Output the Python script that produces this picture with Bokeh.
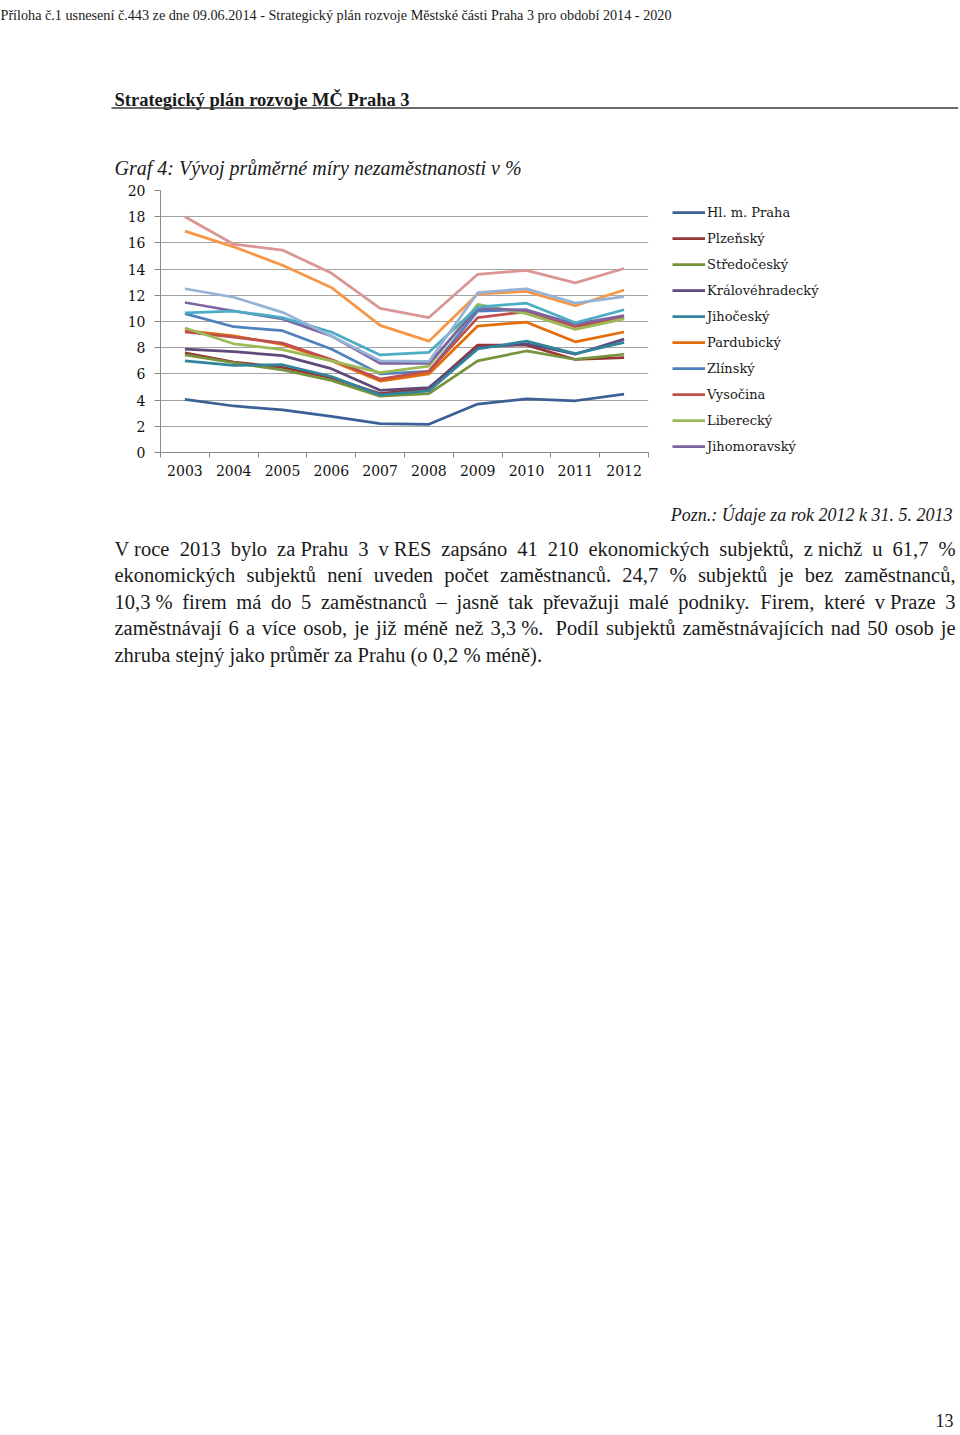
from bokeh.plotting import figure
from bokeh.models import Range1d, FixedTicker, Legend, LegendItem
from bokeh.core.properties import value
from bokeh.embed import file_html
from bokeh.resources import INLINE

# ---------------- data ----------------
years = [2003, 2004, 2005, 2006, 2007, 2008, 2009, 2010, 2011, 2012]
year_labels = ["2003", "2004", "2005", "2006", "2007", "2008", "2009", "2010", "2011", "2012"]
y_ticks = [0, 2, 4, 6, 8, 10, 12, 14, 16, 18, 20]

praha = [4.05, 3.55, 3.25, 2.75, 2.2, 2.15, 3.7, 4.1, 3.95, 4.45]
plzensky = [7.6, 6.9, 6.5, 5.7, 4.5, 4.9, 8.2, 8.2, 7.1, 7.25]
stredocesky = [7.45, 6.85, 6.3, 5.5, 4.3, 4.5, 7.0, 7.75, 7.1, 7.5]
kralovehradecky = [7.9, 7.7, 7.4, 6.4, 4.75, 4.95, 8.0, 8.3, 7.5, 8.65]
jihocesky = [7.0, 6.65, 6.7, 5.8, 4.4, 4.7, 7.9, 8.5, 7.55, 8.4]
pardubicky = [9.3, 8.9, 8.25, 7.0, 5.45, 6.0, 9.65, 9.95, 8.45, 9.2]
zlinsky = [10.6, 9.6, 9.3, 7.9, 6.0, 6.2, 10.8, 10.9, 9.75, 10.4]
vysocina = [9.2, 8.8, 8.35, 7.1, 5.6, 6.2, 10.3, 10.75, 9.6, 10.3]
liberecky = [9.5, 8.3, 7.85, 7.0, 6.1, 6.6, 11.3, 10.6, 9.4, 10.2]
jihomoravsky = [11.45, 10.8, 10.2, 8.9, 6.8, 6.8, 11.0, 10.85, 9.8, 10.45]
karlovarsky = [10.65, 10.8, 10.3, 9.2, 7.45, 7.65, 11.1, 11.4, 9.9, 10.9]
ustecky = [16.9, 15.7, 14.3, 12.6, 9.7, 8.5, 12.1, 12.3, 11.2, 12.4]
olomoucky = [12.5, 11.85, 10.7, 8.9, 7.0, 6.95, 12.2, 12.5, 11.4, 11.9]
moravskoslezsky = [18.0, 15.9, 15.45, 13.7, 11.0, 10.3, 13.6, 13.9, 12.95, 14.05]

series_names = ["Hl. m. Praha", "Plzeňský", "Středočeský", "Královéhradecký", "Jihočeský",
                "Pardubický", "Zlínský", "Vysočina", "Liberecký", "Jihomoravský",
                "Karlovarský", "Ústecký", "Olomoucký", "Moravskoslezský"]
series_values = [praha, plzensky, stredocesky, kralovehradecky, jihocesky, pardubicky,
                 zlinsky, vysocina, liberecky, jihomoravsky, karlovarsky, ustecky,
                 olomoucky, moravskoslezsky]
series_colors = ["#3B6095", "#953735", "#77933C", "#604A7B", "#31859C", "#E46C0A",
                 "#4F81BD", "#C0504D", "#9BBB59", "#8064A2", "#4BACC6", "#F79646",
                 "#95B3D7", "#D99694"]
legend_shown = 10

header_text = "Příloha č.1 usnesení č.443 ze dne 09.06.2014 - Strategický plán rozvoje Městské části Praha 3 pro období 2014 - 2020"
section_title = "Strategický plán rozvoje MČ Praha 3"
chart_title = "Graf 4: Vývoj průměrné míry nezaměstnanosti v %"
note_text = "Pozn.: Údaje za rok 2012 k 31. 5. 2013"
para_lines = [
    ["V roce", "2013", "bylo", "za Prahu", "3", "v RES", "zapsáno", "41", "210", "ekonomických",
     "subjektů,", "z nichž", "u", "61,7", "%"],
    ["ekonomických", "subjektů", "není", "uveden", "počet", "zaměstnanců.", "24,7", "%",
     "subjektů", "je", "bez", "zaměstnanců,"],
    ["10,3 %", "firem", "má", "do", "5", "zaměstnanců", "–", "jasně", "tak", "převažuji",
     "malé", "podniky.", "Firem,", "které", "v Praze", "3"],
    ["zaměstnávají", "6", "a", "více", "osob,", "je", "již", "méně", "než", "3,3 %. ", "Podíl",
     "subjektů", "zaměstnávajících", "nad", "50", "osob", "je"],
]
para_last = "zhruba stejný jako průměr za Prahu (o 0,2 % méně)."
page_number = "13"

# ---------------- layout constants ----------------
PAGE_W = 958
PAGE_H = 1435
TOP_H = 183
CH_H = 312
BOT_Y0 = TOP_H + CH_H
BOT_H = PAGE_H - BOT_Y0
FRAME_L, FRAME_R = 160, 648

SERIF = "Liberation Serif"
CHART_FONT = "DejaVu Serif"

# Times-compatible widths (per 1000 em) for word placement in justified lines
_TW = {' ': 250, '%': 833, '(': 333, ')': 333, ',': 250, '-': 333, '.': 250, ':': 278, '–': 500,
       'A': 722, 'B': 667, 'C': 667, 'D': 722, 'E': 611, 'F': 556, 'G': 722, 'H': 722, 'I': 333,
       'J': 389, 'K': 722, 'L': 611, 'M': 889, 'N': 722, 'O': 722, 'P': 556, 'R': 667, 'S': 556,
       'T': 611, 'U': 722, 'V': 722, 'Z': 611,
       'a': 444, 'b': 500, 'c': 444, 'd': 500, 'e': 444, 'f': 333, 'g': 500, 'h': 500, 'i': 278,
       'j': 278, 'k': 500, 'l': 278, 'm': 778, 'n': 500, 'o': 500, 'p': 500, 'q': 500, 'r': 333,
       's': 389, 't': 278, 'u': 500, 'v': 500, 'w': 722, 'x': 500, 'y': 500, 'z': 444}
_BASE = {'á': 'a', 'č': 'c', 'ď': 'd', 'é': 'e', 'ě': 'e', 'í': 'i', 'ň': 'n', 'ó': 'o', 'ř': 'r',
         'š': 's', 'ť': 't', 'ú': 'u', 'ů': 'u', 'ý': 'y', 'ž': 'z', 'Č': 'C', 'Ř': 'R', 'Š': 'S',
         'Ú': 'U', 'Ž': 'Z'}


def text_width(s, size):
    w = 0
    for ch in s:
        w += _TW.get(_BASE.get(ch, ch), 500)
    return w / 1000.0 * size


def place(y0):
    return {"position": "absolute", "left": "0px", "top": f"{y0}px"}


def text_fig(h, y0):
    p = figure(width=PAGE_W, height=h, x_range=Range1d(0, PAGE_W), y_range=Range1d(y0 + h, y0),
               x_axis_type=None, y_axis_type=None, output_backend="svg",
               toolbar_location=None, min_border=0, styles=place(y0))
    p.grid.visible = False
    p.outline_line_color = None
    return p


# ---------------- top: page header & titles ----------------
top = text_fig(TOP_H, 0)
top.text(x=[0], y=[14], text=[header_text], text_font=value(SERIF), text_font_size="14.2px",
         text_baseline="alphabetic", text_align="left", text_color="#1a1a1a")
top.text(x=[114], y=[99], text=[section_title], text_font=value(SERIF), text_font_size="18.5px",
         text_font_style="bold", text_baseline="alphabetic", text_align="left", text_color="#1a1a1a")
top.segment(x0=[111], y0=[107.5], x1=[958], y1=[107.5], line_color="#3a3a3a", line_width=1.3)
top.text(x=[114], y=[167], text=[chart_title], text_font=value(SERIF), text_font_size="20px",
         text_font_style="italic", text_baseline="alphabetic", text_align="left", text_color="#1a1a1a")

# ---------------- chart ----------------
ch = figure(frame_width=FRAME_R - FRAME_L, frame_height=262,
            x_range=Range1d(2002.5, 2012.5), y_range=Range1d(0, 20),
            output_backend="svg", toolbar_location=None,
            min_border_left=FRAME_L, min_border_right=0,
            min_border_top=7, min_border_bottom=43, styles=place(TOP_H))
ch.outline_line_color = None
ch.xgrid.visible = False
ch.ygrid.grid_line_color = "#a3a3a3"
ch.ygrid.grid_line_width = 1

ch.xaxis.ticker = FixedTicker(ticks=years, minor_ticks=[y - 0.5 for y in years] + [years[-1] + 0.5])
ch.xaxis.major_label_overrides = {y: l for y, l in zip(years, year_labels)}
ch.xaxis.major_tick_out = 0
ch.xaxis.major_tick_in = 0
ch.xaxis.minor_tick_out = 5
ch.xaxis.minor_tick_in = 0
ch.xaxis.major_label_standoff = 7

ch.yaxis.ticker = FixedTicker(ticks=y_ticks)
ch.yaxis.major_tick_out = 6
ch.yaxis.major_tick_in = 0
ch.yaxis.minor_tick_out = 0
ch.yaxis.minor_tick_in = 0
ch.yaxis.major_label_standoff = 9

for ax in (ch.xaxis[0], ch.yaxis[0]):
    ax.axis_line_color = "#8a8a8a"
    ax.major_tick_line_color = "#8a8a8a"
    ax.minor_tick_line_color = "#8a8a8a"
    ax.major_label_text_font = CHART_FONT
    ax.major_label_text_font_size = "14px"
    ax.major_label_text_color = "#111111"

renderers = []
for name, vals, col in zip(series_names, series_values, series_colors):
    r = ch.line(x=years, y=vals, line_color=col, line_width=2.75, line_join="round")
    renderers.append(r)

legend = Legend(items=[LegendItem(label=n, renderers=[r])
                       for n, r in zip(series_names[:legend_shown], renderers[:legend_shown])],
                location=(24, -4), orientation="vertical", padding=0, margin=0, spacing=6,
                glyph_width=33, glyph_height=20, label_height=20, label_standoff=2,
                label_text_font=CHART_FONT, label_text_font_size="13px",
                label_text_color="#1a1a1a", border_line_color=None, background_fill_alpha=0)
ch.add_layout(legend, "right")

# ---------------- bottom: note & paragraph ----------------
bot = text_fig(BOT_H, BOT_Y0)
bot.text(x=[952], y=[514], text=[note_text], text_font=value(SERIF), text_font_size="18px",
         text_font_style="italic", text_baseline="alphabetic", text_align="right", text_color="#1a1a1a")

PFS = 20.5
LEFT, RIGHT = 114, 955
baselines = [548, 574.5, 601, 627.5, 654]
xs, ys, ts, als = [], [], [], []
for tokens, yb in zip(para_lines, baselines):
    widths = [text_width(t, PFS) for t in tokens]
    gap = (RIGHT - LEFT - sum(widths)) / (len(tokens) - 1)
    x = LEFT
    for i, (t, w) in enumerate(zip(tokens, widths)):
        if i == len(tokens) - 1:
            xs.append(RIGHT); als.append("right")
        else:
            xs.append(x); als.append("left")
        ys.append(yb); ts.append(t.strip())
        x += w + gap
xs.append(LEFT); ys.append(baselines[-1]); ts.append(para_last); als.append("left")
bot.text(x=xs, y=ys, text=ts, text_align=als, text_font=value(SERIF), text_font_size=f"{PFS}px",
         text_baseline="alphabetic", text_color="#1a1a1a")
bot.text(x=[953], y=[1420], text=[page_number], text_align="right", text_font=value(SERIF),
         text_font_size="18px", text_baseline="alphabetic", text_color="#1a1a1a")

open("out.html", "w").write(file_html([top, ch, bot], INLINE))
